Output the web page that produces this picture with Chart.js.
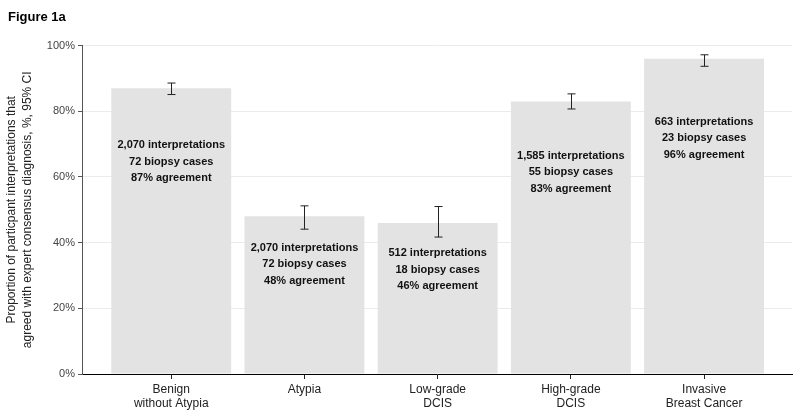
<!DOCTYPE html>
<html>
<head>
<meta charset="utf-8">
<script src="https://cdn.jsdelivr.net/npm/chart.js@4.4.1/dist/chart.umd.min.js"></script>
<style>
  html, body { margin: 0; padding: 0; background: #fff; }
  #wrap { width: 800px; height: 420px; }
</style>
</head>
<body>
<div id="wrap"><canvas id="chart" width="800" height="420"></canvas></div>
<script>
// data
var categories = [["Benign", "without Atypia"], ["Atypia"], ["Low-grade", "DCIS"], ["High-grade", "DCIS"], ["Invasive", "Breast Cancer"]];
var agreement = [87, 48, 46, 83, 96];
var ciLow = [85.1, 44.1, 41.7, 80.7, 93.7];
var ciHigh = [88.6, 51.2, 51.0, 85.3, 97.2];
var interpretations = ["2,070", "2,070", "512", "1,585", "663"];
var biopsyCases = [72, 72, 18, 55, 23];
var yTicks = [0, 20, 40, 60, 80, 100];

Chart.defaults.font.family = "'Liberation Sans', Arial, sans-serif";
Chart.defaults.color = "#333";

var barData = agreement.map(function (v, i) { return { x: i, y: v }; });

// error bars with caps
var errorBars = {
  id: "errorBars",
  afterDatasetsDraw: function (chart) {
    var ctx = chart.ctx;
    var xs = chart.scales.x, ys = chart.scales.y;
    ctx.save();
    ctx.strokeStyle = "#222";
    ctx.lineWidth = 1;
    for (var i = 0; i < agreement.length; i++) {
      var x = Math.round(xs.getPixelForValue(i)) + 0.5;
      var top = ys.getPixelForValue(ciHigh[i]);
      var bot = ys.getPixelForValue(ciLow[i]);
      ctx.beginPath();
      ctx.moveTo(x, top); ctx.lineTo(x, bot);
      ctx.moveTo(x - 4, top); ctx.lineTo(x + 4, top);
      ctx.moveTo(x - 4, bot); ctx.lineTo(x + 4, bot);
      ctx.stroke();
    }
    ctx.restore();
  }
};

// three-line labels inside bars
var barLabels = {
  id: "barLabels",
  afterDatasetsDraw: function (chart) {
    var ctx = chart.ctx;
    var xs = chart.scales.x, ys = chart.scales.y;
    ctx.save();
    ctx.font = "bold 11px 'Liberation Sans', Arial, sans-serif";
    ctx.fillStyle = "#111";
    ctx.textAlign = "center";
    ctx.textBaseline = "middle";
    for (var i = 0; i < agreement.length; i++) {
      var x = xs.getPixelForValue(i);
      var y = ys.getPixelForValue(agreement[i] * 0.8);
      var lines = [
        interpretations[i] + " interpretations",
        biopsyCases[i] + " biopsy cases",
        agreement[i] + "% agreement"
      ];
      lines.forEach(function (t, k) { ctx.fillText(t, x, y + k * 16.5); });
    }
    ctx.restore();
  }
};

new Chart(document.getElementById("chart"), {
  type: "bar",
  data: {
    datasets: [{
      data: barData,
      backgroundColor: "#e3e3e3",
      borderWidth: 0,
      barPercentage: 0.9,
      categoryPercentage: 1
    }]
  },
  options: {
    responsive: false,
    animation: false,
    layout: { padding: { left: 8, right: 8, top: 0, bottom: 0 } },
    plugins: {
      legend: { display: false },
      tooltip: { enabled: false },
      title: {
        display: true,
        text: "Figure 1a",
        align: "start",
        color: "#000",
        font: { size: 13, weight: "bold" },
        padding: { top: 10, bottom: 20 }
      }
    },
    scales: {
      x: {
        type: "linear",
        offset: false,
        min: -0.67,
        max: 4.66,
        afterBuildTicks: function (scale) {
          scale.ticks = categories.map(function (c, i) { return { value: i }; });
        },
        afterFit: function (scale) { scale.height = 46; },
        ticks: {
          autoSkip: false,
          maxRotation: 0,
          color: "#222",
          font: { size: 12 },
          padding: 3,
          callback: function (v) { return categories[v]; }
        },
        grid: { offset: false, drawOnChartArea: false, drawTicks: true, tickLength: 5, tickColor: "#222" },
        border: { color: "#000", width: 1 }
      },
      y: {
        min: 0,
        max: 100,
        afterBuildTicks: function (scale) {
          scale.ticks = yTicks.map(function (v) { return { value: v }; });
        },
        afterFit: function (scale) { scale.width = 74; },
        ticks: {
          color: "#444",
          font: { size: 11 },
          padding: 3,
          callback: function (v) { return v + "%"; }
        },
        grid: { color: "#ebebeb", tickLength: 4, tickColor: "#555" },
        border: { color: "#555", width: 1 },
        title: {
          display: true,
          text: ["Proportion of particpant interpretations that", "agreed with expert consensus diagnosis, %, 95% CI"],
          color: "#222",
          font: { size: 12, lineHeight: 1.3 },
          padding: { top: -4, bottom: 0 }
        }
      }
    }
  },
  plugins: [errorBars, barLabels]
});
</script>
</body>
</html>
